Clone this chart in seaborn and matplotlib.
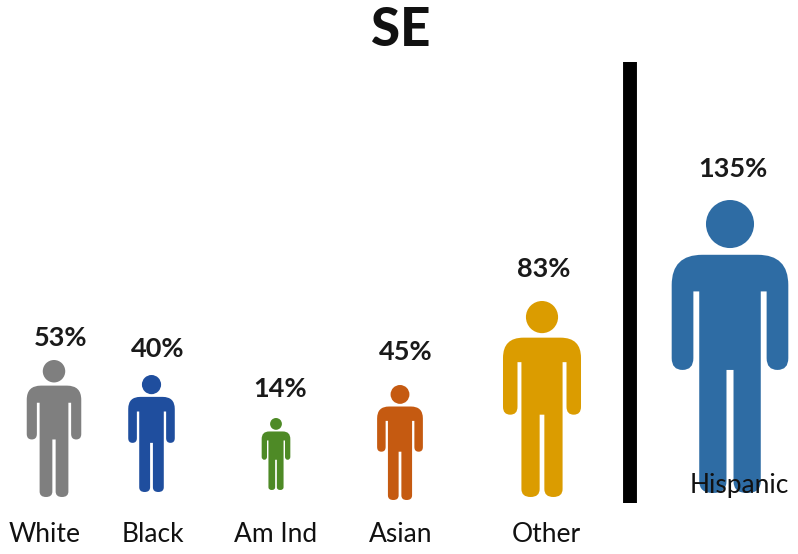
import matplotlib
matplotlib.use('Agg')
import matplotlib.pyplot as plt
from matplotlib.path import Path
import seaborn as sns
import pandas as pd

# data
groups = ['White', 'Black', 'Am Ind', 'Asian', 'Other', 'Hispanic']
percents = [53, 40, 14, 45, 83, 135]
colors = ['#7f7f7f', '#1f4e9e', '#4e8a26', '#c55a11', '#db9c00', '#2e6ca4']

# layout, all in reference pixels
icon_x = [54, 151.5, 276, 400, 542, 730]
icon_feet = [497, 492, 490, 500, 497, 493]
icon_height = [137, 117, 72, 115, 196, 293]
pct_pos = [(61, 338), (158, 349), (280, 389), (406, 352), (544, 269), (733, 169)]
name_pos = [(45, 535), (153, 535), (276, 535), (401, 535), (546, 535), (739, 486)]

sns.set_theme(style='white')
plt.rcParams['font.family'] = ['Lato', 'DejaVu Sans']


def person_marker():
    # origin at the feet, height 1, so the marker stands on its y value
    M, L, C = Path.MOVETO, Path.LINETO, Path.CURVE3
    half = [
        ((0.012, 0.42), L), ((0.012, 0.04), L),
        ((0.012, 0.0), C), ((0.058, 0.0), C),
        ((0.105, 0.0), C), ((0.105, 0.04), C),
        ((0.105, 0.688), L), ((0.125, 0.688), L), ((0.125, 0.46), L),
        ((0.125, 0.42), C), ((0.162, 0.42), C),
        ((0.199, 0.42), C), ((0.199, 0.46), C),
        ((0.199, 0.71), L),
        ((0.199, 0.813), C), ((0.095, 0.813), C),
        ((0.0, 0.813), L),
    ]
    verts = [(0.0, 0.42)]
    codes = [M]
    for v, c in half:
        verts.append(v)
        codes.append(c)
    # mirror the right side back down to the crotch
    for i in range(len(half) - 2, -1, -1):
        x, y = half[i][0]
        verts.append((-x, y))
        codes.append(half[i + 1][1])
    verts.append((0.0, 0.42))
    codes.append(L)
    body = Path(verts, codes)
    head = Path.circle((0.0, 0.918), 0.082)
    return Path.make_compound_path(body, head)


df = pd.DataFrame({'group': groups, 'x': icon_x, 'y': icon_feet})
# scatter scales a path marker so that height 1 is 0.5*sqrt(s) points
sizes = {g: (2 * h * 0.72) ** 2 for g, h in zip(groups, icon_height)}

fig = plt.figure(figsize=(7.98, 5.54), dpi=100)
ax = fig.add_axes([0, 0, 1, 1])

sns.scatterplot(data=df, x='x', y='y', hue='group', size='group',
                palette=dict(zip(groups, colors)), sizes=sizes,
                marker=person_marker(), linewidth=0, legend=False, ax=ax)

ax.set_xlim(0, 798)
ax.set_ylim(554, 0)
ax.axis('off')

ax.vlines(630, 62, 503, color='black', linewidth=10)

ax.text(401, 31, 'SE', ha='center', va='center', fontsize=38, fontweight=900,
        color='#111111')

for p, (x, y) in zip(percents, pct_pos):
    ax.text(x, y, f'{p}%', ha='center', va='center', fontsize=19.5, fontweight='bold',
            color='#1a1a1a')

for g, (x, y) in zip(groups, name_pos):
    ax.text(x, y, g, ha='center', va='center', fontsize=19, color='#111111')

fig.savefig('out.png', dpi=100)
